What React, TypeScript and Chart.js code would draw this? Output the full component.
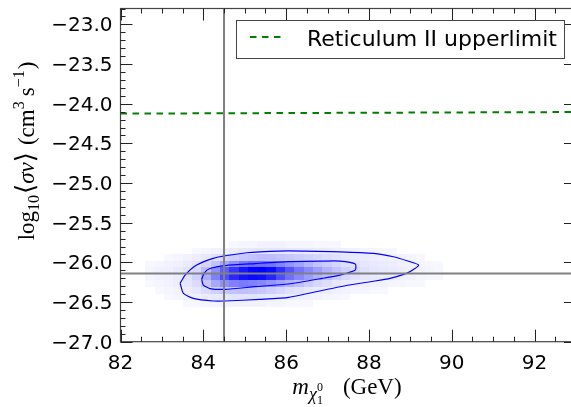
import React, { useEffect, useRef } from 'react';
import { Chart, registerables } from 'chart.js';

Chart.register(...registerables);

// ---------- data ----------
const X_MIN = 82;
const X_MAX = 93;
const Y_MIN = -27;
const Y_MAX = -22.8;

const xTickValues = [82, 84, 86, 88, 90, 92];
const xTickLabels = ['82', '84', '86', '88', '90', '92'];
const yTickValues = [-27, -26.5, -26, -25.5, -25, -24.5, -24, -23.5, -23];
const yTickLabels = ['−27.0', '−26.5', '−26.0', '−25.5', '−25.0', '−24.5', '−24.0', '−23.5', '−23.0'];

const upperLimitLabel = 'Reticulum II upperlimit';
const upperLimitMass = [82, 93];
const upperLimitSigmaV = [-24.125, -24.105];

const bestFitMass = 84.5;
const bestFitSigmaV = -26.14;

const outerContourMass = [83.44, 83.56, 83.84, 84.24, 84.53, 85.05, 85.37, 86.06, 87.3, 88.11, 88.59, 88.92, 89.2, 88.96, 88.51, 88.03, 87.3, 86.06, 85.37, 84.53, 84.24, 83.76, 83.52, 83.44];
const outerContourSigmaV = [-26.264, -26.16, -26.034, -25.95, -25.917, -25.879, -25.867, -25.854, -25.867, -25.887, -25.929, -25.98, -26.034, -26.126, -26.202, -26.244, -26.307, -26.441, -26.466, -26.487, -26.487, -26.453, -26.39, -26.264];

const innerContourMass = [83.96, 84.02, 84.16, 84.53, 85.25, 86.05, 86.87, 87.3, 87.67, 87.67, 87.3, 86.87, 86.05, 85.25, 84.53, 84.16, 84.0, 83.96];
const innerContourSigmaV = [-26.214, -26.135, -26.078, -26.04, -26.015, -25.99, -25.984, -25.984, -26.021, -26.097, -26.16, -26.202, -26.273, -26.307, -26.34, -26.33, -26.286, -26.214];

// 2D histogram of posterior samples (percent of peak), rows from top (high sigma v) to bottom
const histMassStart = 82.6;
const histMassStep = 0.225;
const histSigmaVTop = -25.73;
const histSigmaVStep = 0.083;
const histDensity = [
  [0, 0, 0, 0, 0, 0, 0, 0, 0, 3, 4, 4, 5, 5, 5, 4, 4, 4, 3, 3, 3, 0, 0, 0, 0, 0, 0, 0, 0, 0, 0, 0],
  [0, 0, 0, 0, 0, 3, 4, 5, 6, 8, 9, 10, 10, 10, 10, 9, 9, 8, 7, 7, 6, 5, 5, 4, 4, 3, 3, 0, 0, 0, 0, 0],
  [0, 0, 3, 4, 5, 7, 9, 12, 16, 19, 22, 24, 26, 26, 24, 22, 20, 18, 16, 14, 12, 10, 9, 8, 7, 6, 5, 5, 4, 3, 0, 0],
  [3, 4, 5, 6, 8, 11, 16, 24, 34, 44, 52, 57, 57, 54, 48, 42, 36, 30, 24, 20, 16, 13, 12, 10, 9, 8, 7, 6, 5, 4, 3, 3],
  [4, 5, 6, 8, 11, 16, 26, 44, 64, 79, 91, 98, 100, 96, 82, 67, 55, 46, 38, 30, 24, 18, 15, 12, 10, 9, 8, 7, 6, 5, 4, 3],
  [4, 5, 6, 8, 12, 18, 32, 50, 70, 84, 93, 96, 94, 86, 70, 56, 47, 39, 31, 25, 19, 15, 12, 10, 9, 8, 7, 6, 5, 4, 3, 3],
  [3, 4, 5, 7, 10, 14, 22, 34, 44, 50, 52, 50, 47, 42, 36, 30, 25, 20, 16, 13, 10, 8, 7, 6, 5, 5, 4, 4, 3, 3, 0, 0],
  [0, 3, 4, 5, 7, 10, 14, 18, 22, 24, 25, 24, 22, 19, 16, 13, 11, 9, 8, 7, 6, 5, 4, 4, 3, 3, 0, 0, 0, 0, 0, 0],
  [0, 0, 3, 4, 5, 6, 8, 9, 10, 11, 11, 11, 10, 9, 8, 7, 6, 5, 5, 4, 4, 3, 0, 0, 0, 0, 0, 0, 0, 0, 0, 0],
  [0, 0, 0, 0, 3, 3, 4, 4, 5, 5, 5, 5, 5, 4, 4, 3, 3, 3, 0, 0, 0, 0, 0, 0, 0, 0, 0, 0, 0, 0, 0, 0],
];

// ---------- helpers ----------
const SANS = '"DejaVu Sans", sans-serif';
const SERIF = '"Liberation Serif", "DejaVu Serif", "DejaVu Sans", serif';

type Seg = { t: string; size: number; italic?: boolean; dy?: number; noAdvance?: boolean; gap?: number };

function segFont(s: Seg) {
  return `${s.italic ? 'italic ' : ''}${s.size}px ${SERIF}`;
}

function richWidth(ctx: CanvasRenderingContext2D, segs: Seg[]) {
  let w = 0;
  for (const s of segs) {
    ctx.font = segFont(s);
    w += s.gap || 0;
    if (!s.noAdvance) w += ctx.measureText(s.t).width;
  }
  return w;
}

function drawRich(ctx: CanvasRenderingContext2D, segs: Seg[], cx: number, baseline: number) {
  const w = richWidth(ctx, segs);
  let x = cx - w / 2;
  ctx.textAlign = 'left';
  ctx.textBaseline = 'alphabetic';
  for (const s of segs) {
    ctx.font = segFont(s);
    x += s.gap || 0;
    ctx.fillText(s.t, x, baseline + (s.dy || 0));
    if (!s.noAdvance) x += ctx.measureText(s.t).width;
  }
}

const heatmapPlugin = {
  id: 'heatmap',
  beforeDatasetsDraw(chart: any) {
    const { ctx, chartArea, scales } = chart;
    const xs = scales.x;
    const ys = scales.y;
    ctx.save();
    ctx.beginPath();
    ctx.rect(chartArea.left, chartArea.top, chartArea.right - chartArea.left, chartArea.bottom - chartArea.top);
    ctx.clip();
    histDensity.forEach((row, r) => {
      const yTop = histSigmaVTop - r * histSigmaVStep;
      const yBot = yTop - histSigmaVStep;
      row.forEach((v, c) => {
        if (!v) return;
        const x0 = histMassStart + c * histMassStep;
        const x1 = x0 + histMassStep;
        const px0 = Math.round(xs.getPixelForValue(x0));
        const px1 = Math.round(xs.getPixelForValue(x1));
        const py0 = Math.round(ys.getPixelForValue(yTop));
        const py1 = Math.round(ys.getPixelForValue(yBot));
        const t = v / 100;
        const g = Math.round(255 * (1 - t));
        ctx.fillStyle = `rgb(${g},${g},255)`;
        ctx.fillRect(px0, py0, px1 - px0, py1 - py0);
      });
    });
    ctx.restore();
  },
};

const axesPlugin = {
  id: 'mplAxes',
  afterDraw(chart: any) {
    const { ctx, chartArea, scales } = chart;
    const xs = scales.x;
    const ys = scales.y;
    const L = chartArea.left;
    const R = chartArea.right;
    const T = chartArea.top;
    const B = chartArea.bottom;
    ctx.save();
    // spines
    ctx.strokeStyle = '#444';
    ctx.lineWidth = 1.2;
    ctx.strokeRect(L, T, R - L, B - T);

    // ticks
    ctx.strokeStyle = '#222';
    ctx.lineWidth = 1;
    const majorLen = 12;
    const minorLen = 5;
    ctx.beginPath();
    for (let i = 0; i <= (X_MAX - X_MIN) * 2; i++) {
      const v = X_MIN + i * 0.5;
      const px = Math.round(xs.getPixelForValue(v)) + 0.5;
      const len = Math.abs(v % 2) < 1e-6 ? majorLen : minorLen;
      ctx.moveTo(px, B);
      ctx.lineTo(px, B - len);
      ctx.moveTo(px, T);
      ctx.lineTo(px, T + len);
    }
    for (let i = 0; i <= Math.round((Y_MAX - Y_MIN) * 10); i++) {
      const v = Y_MIN + i * 0.1;
      const py = Math.round(ys.getPixelForValue(v)) + 0.5;
      const major = i % 5 === 0;
      const len = major ? majorLen : minorLen;
      ctx.moveTo(L, py);
      ctx.lineTo(L + len, py);
      ctx.moveTo(R, py);
      ctx.lineTo(R - len, py);
    }
    ctx.stroke();

    // tick labels
    ctx.fillStyle = '#000';
    ctx.font = `20px ${SANS}`;
    ctx.textAlign = 'center';
    ctx.textBaseline = 'alphabetic';
    xTickValues.forEach((v, i) => {
      ctx.fillText(xTickLabels[i], xs.getPixelForValue(v), B + 27);
    });
    ctx.textAlign = 'right';
    yTickValues.forEach((v, i) => {
      ctx.fillText(yTickLabels[i], L - 8, ys.getPixelForValue(v) + 7);
    });

    // x title
    const xTitle: Seg[] = [
      { t: 'm', size: 23, italic: true },
      { t: 'χ', size: 18, italic: true, dy: 6 },
      { t: '1', size: 12, dy: 10, noAdvance: true },
      { t: '0', size: 12, dy: -3 },
      { t: '(GeV)', size: 23, gap: 20 },
    ];
    drawRich(ctx, xTitle, 347, 394);

    // y title
    const yTitle: Seg[] = [
      { t: 'log', size: 23 },
      { t: '10', size: 16, dy: 5 },
      { t: '⟨', size: 26, gap: 1 },
      { t: 'σv', size: 23, italic: true },
      { t: '⟩', size: 26 },
      { t: '(cm', size: 23, gap: 7 },
      { t: '3', size: 16, dy: -10 },
      { t: 's', size: 23, gap: 5 },
      { t: '−1', size: 16, dy: -10 },
      { t: ')', size: 23, gap: 1 },
    ];
    ctx.save();
    ctx.translate(34, 151);
    ctx.rotate(-Math.PI / 2);
    drawRich(ctx, yTitle, 0, 0);
    ctx.restore();

    // legend
    const lx = 236.5, ly = 20.5, lw = 328, lh = 38;
    ctx.fillStyle = '#fff';
    ctx.fillRect(lx, ly, lw, lh);
    ctx.strokeStyle = '#444';
    ctx.lineWidth = 1;
    ctx.strokeRect(lx, ly, lw, lh);
    ctx.strokeStyle = '#008000';
    ctx.lineWidth = 2;
    ctx.setLineDash([6.5, 5.5]);
    ctx.beginPath();
    ctx.moveTo(250, 37);
    ctx.lineTo(285, 37);
    ctx.stroke();
    ctx.setLineDash([]);
    ctx.fillStyle = '#000';
    ctx.font = `22px ${SANS}`;
    ctx.textAlign = 'left';
    ctx.fillText(upperLimitLabel, 307, 46);
    ctx.restore();
  },
};

function pts(xsArr: number[], ysArr: number[]) {
  return xsArr.map((x, i) => ({ x, y: ysArr[i] }));
}

export default function App() {
  const ref = useRef<HTMLCanvasElement | null>(null);
  useEffect(() => {
    const canvas = ref.current;
    if (!canvas) return;
    const chart = new Chart(canvas, {
      type: 'scatter',
      data: {
        datasets: [
          {
            label: 'best-fit mass',
            data: [{ x: bestFitMass, y: Y_MIN }, { x: bestFitMass, y: Y_MAX }],
            showLine: true,
            borderColor: '#808080',
            borderWidth: 2,
            pointRadius: 0,
          },
          {
            label: 'best-fit sigma v',
            data: [{ x: X_MIN, y: bestFitSigmaV }, { x: X_MAX, y: bestFitSigmaV }],
            showLine: true,
            borderColor: '#808080',
            borderWidth: 2,
            pointRadius: 0,
          },
          {
            label: upperLimitLabel,
            data: pts(upperLimitMass, upperLimitSigmaV),
            showLine: true,
            borderColor: '#008000',
            borderWidth: 2,
            borderDash: [6.5, 5.5],
            pointRadius: 0,
          },
          {
            label: '68%',
            data: pts(innerContourMass, innerContourSigmaV),
            showLine: true,
            borderColor: '#0000ff',
            borderWidth: 1.2,
            pointRadius: 0,
            tension: 0.2,
          },
          {
            label: '95%',
            data: pts(outerContourMass, outerContourSigmaV),
            showLine: true,
            borderColor: '#0000ff',
            borderWidth: 1.2,
            pointRadius: 0,
            tension: 0.2,
          },
        ],
      },
      options: {
        animation: false,
        responsive: false,
        events: [],
        layout: { padding: { left: 120.5, top: 8.5, right: 24, bottom: 65.3 } },
        scales: {
          x: { type: 'linear', min: X_MIN, max: X_MAX, display: false },
          y: { type: 'linear', min: Y_MIN, max: Y_MAX, display: false },
        },
        plugins: { legend: { display: false }, tooltip: { enabled: false } },
      },
      plugins: [heatmapPlugin, axesPlugin],
    } as any);
    return () => chart.destroy();
  }, []);
  return (
    <div style={{ position: 'fixed', left: 0, top: 0, width: 571, height: 407, overflow: 'hidden', background: '#fff' }}>
      <canvas ref={ref} width={600} height={407} style={{ width: 600, height: 407, display: 'block' }} />
    </div>
  );
}
